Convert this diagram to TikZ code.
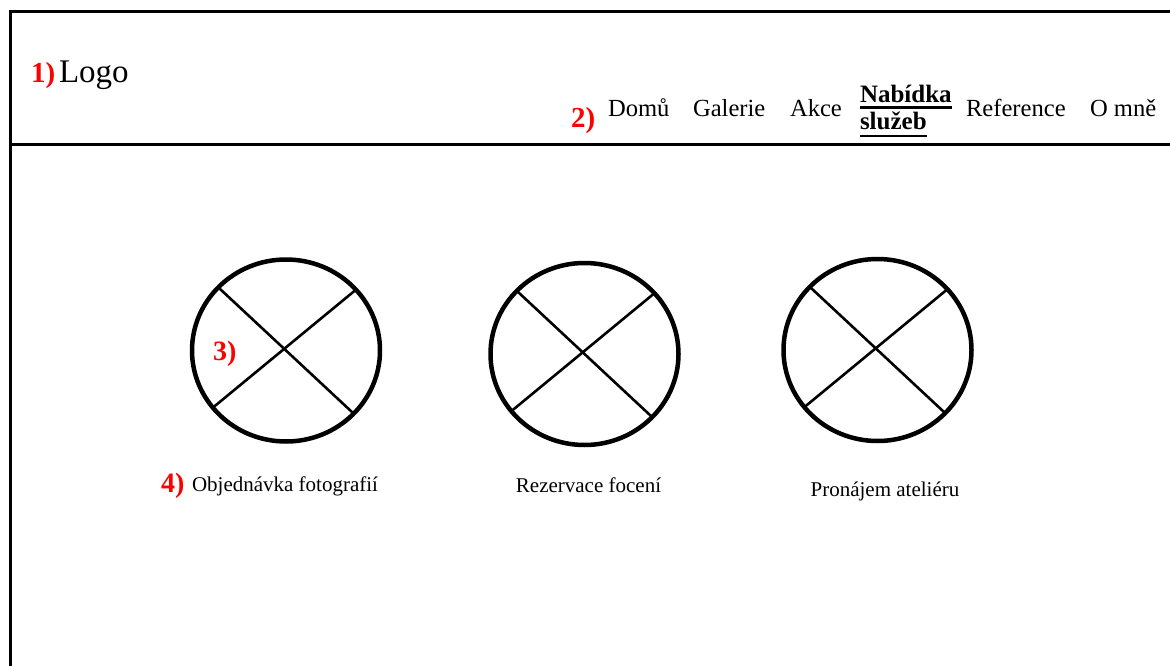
\documentclass[tikz,border=0pt]{standalone}
\usepackage{fontspec}
\setmainfont{Liberation Serif}
\usetikzlibrary{shapes.geometric}
\begin{document}
\begin{tikzpicture}[x=1pt,y=-1pt,
  frameline/.style={line width=3pt},
  ring/.style={ellipse,draw,line width=4.5pt,minimum width=188pt,minimum height=182pt,inner sep=0pt,outer sep=0pt},
  cross/.style={line width=2.6pt},
  txt/.style={inner sep=0pt,outer sep=0pt},
  navtext/.style={txt,anchor=base west,font=\fontsize{24.6}{26}\selectfont},
  navbold/.style={txt,anchor=base west,font=\fontsize{25}{27}\selectfont\bfseries},
  marker/.style={txt,anchor=base west,text=red,font=\bfseries},
  caption/.style={txt,anchor=base,font=\fontsize{21}{23}\selectfont},
  ul/.style={line width=2.2pt}]
\useasboundingbox (0,0) rectangle (1170,666);
% frame
\coordinate (tl) at (10,12);
\coordinate (tr) at (1172,12);
\coordinate (bl) at (10,668);
\coordinate (sl) at (10,145);
\coordinate (sr) at (1172,145);
\draw[frameline] (bl) -- (tl) -- (tr);
\draw[frameline] (sl) -- (sr);
% header
\node[marker,font=\fontsize{29}{31}\selectfont\bfseries] (m1) at (31,83) {1)};
\node[txt,anchor=base west,font=\fontsize{33}{35}\selectfont] (logo) at (59,83) {Logo};
\node[marker,font=\fontsize{29}{31}\selectfont\bfseries] (m2) at (571,128) {2)};
\node[navtext] (n1) at (608,117) {Domů};
\node[navtext] (n2) at (693,117) {Galerie};
\node[navtext] (n3) at (790,117) {Akce};
\node[navbold] (n4a) at (860,103) {Nabídka};
\node[navbold] (n4b) at (860,130) {služeb};
\node[navtext] (n5) at (966,117) {Reference};
\node[navtext] (n6) at (1090,117) {O mně};
\draw[ul] ([yshift=-4.5pt]n4a.base west) -- ([yshift=-4.5pt]n4a.base east);
\draw[ul] ([yshift=-6pt]n4b.base west) -- ([yshift=-6pt]n4b.base east);
% circles
\node[ring] (c1) at (286,350.5) {};
\node[ring] (c2) at (584.5,354) {};
\node[ring] (c3) at (877.5,350) {};
\foreach \c in {c1,c2,c3}{
  \draw[cross] (\c.137) -- (\c.-43);
  \draw[cross] (\c.41) -- (\c.218);
}
\node[marker,font=\fontsize{28}{30}\selectfont\bfseries] (m3) at (213,360) {3)};
% captions
\node[marker,font=\fontsize{28}{30}\selectfont\bfseries] (m4) at (161,492) {4)};
\node[txt,anchor=base west,font=\fontsize{21}{23}\selectfont] (t1) at (192,491) {Objednávka fotografií};
\node[caption] (t2) at (588.5,492) {Rezervace focení};
\node[caption] (t3) at (885,496) {Pronájem ateliéru};
\end{tikzpicture}
\end{document}
